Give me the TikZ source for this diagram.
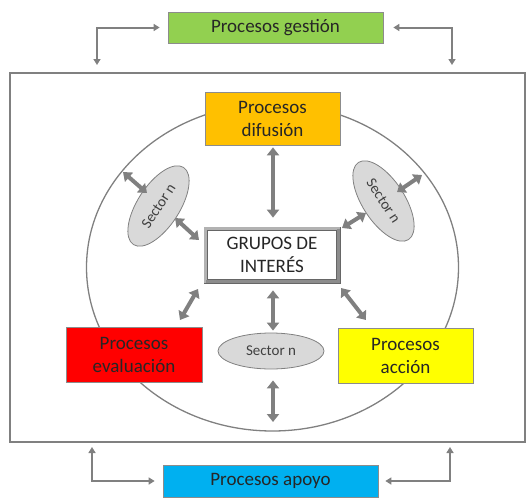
\documentclass[tikz,border=0pt]{standalone}
\usepackage{fontspec}
\setmainfont{Carlito}
\usetikzlibrary{arrows.meta,shapes.geometric}
\definecolor{ggreen}{RGB}{146,208,80}
\definecolor{gorange}{RGB}{255,192,0}
\definecolor{gred}{RGB}{255,0,0}
\definecolor{gyellow}{RGB}{255,255,0}
\definecolor{gblue}{RGB}{0,176,240}
\definecolor{lgray}{RGB}{128,128,128}
\begin{document}
\begin{tikzpicture}[x=1pt,y=-1pt,
  pbox/.style={draw=black!45, line width=0.7pt, align=center, inner sep=0pt,
    text=black!85, font=\fontsize{19}{23}\selectfont},
  sect/.style={ellipse, draw=black!50, line width=0.8pt, fill=black!15, inner sep=0pt,
    text=black!75, font=\fontsize{15}{18}\selectfont},
  bigarr/.style={draw=lgray, line width=4pt,
    {Triangle[width=12pt,length=8pt]}-{Triangle[width=12pt,length=8pt]}},
  conn/.style={draw=lgray, line width=2pt,
    {Triangle[width=7pt,length=6pt]}-{Triangle[width=7pt,length=6pt]}},
  frame/.style={draw=lgray, line width=1.5pt},
  ring/.style={draw=lgray, line width=1.3pt}]
\useasboundingbox (0,0) rectangle (527,498);
% outer frame and ring
\draw[frame] (10,73) rectangle (525,442);
\draw[ring] (272.5,267.4) ellipse [x radius=186, y radius=163.6];
% boxes
\node[pbox, fill=ggreen, minimum width=215pt, minimum height=31pt] (ges) at (275.5,27.5) {Procesos gestión};
\node[pbox, fill=gblue, minimum width=215pt, minimum height=32pt] (apo) at (270.5,481) {Procesos apoyo};
\node[pbox, fill=gorange, minimum width=135pt, minimum height=53pt] (dif) at (272.5,118.5) {Procesos\\difusión};
\node[pbox, fill=gred, minimum width=136pt, minimum height=55pt] (eva) at (134,354.5) {Procesos\\evaluación};
\node[pbox, fill=gyellow, minimum width=135pt, minimum height=55pt] (acc) at (405.5,355.5) {Procesos\\acción};
\node[pbox, draw=black!60, fill=white, minimum width=136pt, minimum height=56pt] (grp) at (272,255) {GRUPOS DE\\INTERÉS};
\draw[black!30, line width=3pt] ([shift={(2pt,-2pt)}]grp.north west) rectangle ([shift={(-2pt,2pt)}]grp.south east);
\draw[black!45, line width=3pt] ([shift={(-2pt,-2pt)}]grp.north east) -- ([shift={(-2pt,2pt)}]grp.south east) -- ([shift={(2pt,2pt)}]grp.south west);
\draw[black!60, line width=0.5pt] ([shift={(3.8pt,-3.8pt)}]grp.north west) rectangle ([shift={(-3.8pt,3.8pt)}]grp.south east);
% sectors
\node[sect, minimum width=106pt, minimum height=36pt] (sc) at (271,351) {Sector n};
\node[sect, rotate=57, minimum width=92pt, minimum height=42pt] (sl) at (158.5,206) {Sector n};
\node[sect, rotate=-57, minimum width=92pt, minimum height=42pt] (sr) at (383.5,201) {Sector n};
% coordinates for arrow ends
\coordinate (l1a) at (123,172); \coordinate (l1b) at (147,193);
\coordinate (l2a) at (175,218); \coordinate (l2b) at (199,240);
\coordinate (r1a) at (342,228); \coordinate (r1b) at (366,213);
\coordinate (r2a) at (397,192); \coordinate (r2b) at (422,175);
\coordinate (bla) at (198,289); \coordinate (blb) at (180,320);
\coordinate (bra) at (341,288); \coordinate (brb) at (366,320);
\coordinate (ebot) at (273,431);
% big arrows
\draw[bigarr, shorten <=2pt, shorten >=9pt] (dif.south -| 273,0) -- (grp.north -| 273,0);
\draw[bigarr] (l1a) -- (l1b);
\draw[bigarr] (l2a) -- (l2b);
\draw[bigarr] (r1a) -- (r1b);
\draw[bigarr] (r2a) -- (r2b);
\draw[bigarr] (bla) -- (blb);
\draw[bigarr] (bra) -- (brb);
\draw[bigarr, shorten <=7pt, shorten >=2pt] (grp.south -| 273,0) -- (sc.north -| 273,0);
\draw[bigarr, shorten <=11pt, shorten >=9pt] (sc.south -| 273,0) -- (ebot);
% outer connectors
\coordinate (tl) at (97,65);
\coordinate (tr) at (452,65);
\coordinate (bl) at (92,447);
\coordinate (br) at (450,447);
\draw[conn, shorten >=8pt] (tl) |- (ges.west);
\draw[conn, shorten <=10pt] (ges.east) -| (tr);
\draw[conn, shorten >=8pt] (bl) |- (apo.west);
\draw[conn, shorten <=7pt] (apo.east) -| (br);
\end{tikzpicture}
\end{document}
